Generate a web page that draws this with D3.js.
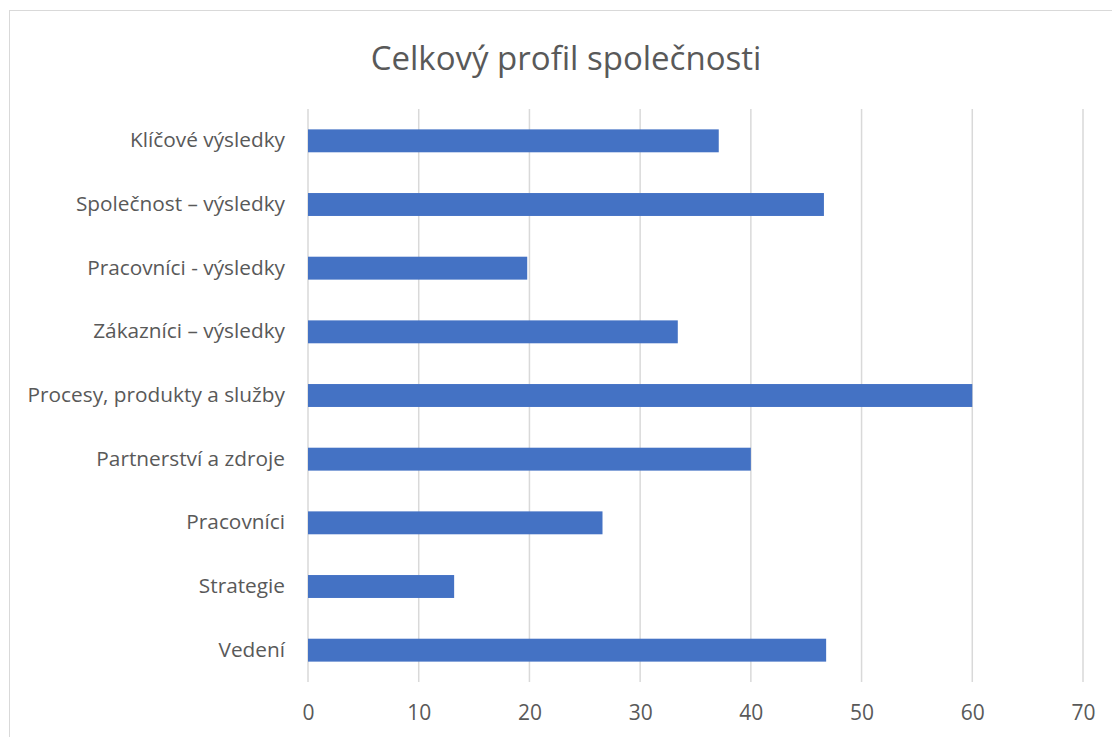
<!DOCTYPE html>
<html>
<head>
<meta charset="utf-8">
<script src="https://cdn.jsdelivr.net/npm/d3@7"></script>
<style>
  body { margin: 0; background: #fff; }
  svg text { font-family: "Open Sans", sans-serif; fill: #595959; }
</style>
</head>
<body>
<svg id="chart" width="1112" height="737"></svg>
<script>
var categories = ["Klíčové výsledky", "Společnost – výsledky", "Pracovníci - výsledky",
  "Zákazníci – výsledky", "Procesy, produkty a služby", "Partnerství a zdroje",
  "Pracovníci", "Strategie", "Vedení"];
var values = [37.1, 46.6, 19.8, 33.4, 60, 40, 26.6, 13.2, 46.8];
var xTicks = [0, 10, 20, 30, 40, 50, 60, 70];

var barColor = "#4472C4";
var gridColor = "#D9D9D9";

var svg = d3.select("#chart");

// chart frame
svg.append("rect")
  .attr("x", 9.5).attr("y", 10.5)
  .attr("width", 1120).attr("height", 740)
  .attr("fill", "none")
  .attr("stroke", gridColor);

svg.append("text")
  .attr("x", 566).attr("y", 57)
  .attr("text-anchor", "middle")
  .attr("dominant-baseline", "central")
  .style("font-size", "33px")
  .text("Celkový profil společnosti");

var x = d3.scaleLinear().domain([0, 70]).range([308, 1083]);
var y = d3.scaleBand().domain(categories).range([109, 682])
  .paddingInner(0.64).paddingOuter(0.32);

// gridlines
svg.append("g")
  .selectAll("line")
  .data(xTicks)
  .enter().append("line")
  .attr("x1", function(d) { return x(d); })
  .attr("x2", function(d) { return x(d); })
  .attr("y1", 109).attr("y2", 682)
  .attr("stroke", gridColor)
  .attr("stroke-width", 1.5);

var xAxis = svg.append("g")
  .attr("transform", "translate(0,682)")
  .call(d3.axisBottom(x).tickValues(xTicks).tickSize(0).tickPadding(23));
xAxis.select(".domain").remove();
xAxis.selectAll("text").style("font-size", "21px").attr("font-family", null);

var yAxis = svg.append("g")
  .attr("transform", "translate(308,0)")
  .call(d3.axisLeft(y).tickSize(0).tickPadding(23));
yAxis.select(".domain").remove();
yAxis.selectAll("text").style("font-size", "20.8px").attr("font-family", null);

svg.append("g")
  .selectAll("rect")
  .data(values)
  .enter().append("rect")
  .attr("x", x(0))
  .attr("y", function(d, i) { return y(categories[i]); })
  .attr("height", y.bandwidth())
  .attr("width", function(d) { return x(d) - x(0); })
  .attr("fill", barColor);
</script>
</body>
</html>
